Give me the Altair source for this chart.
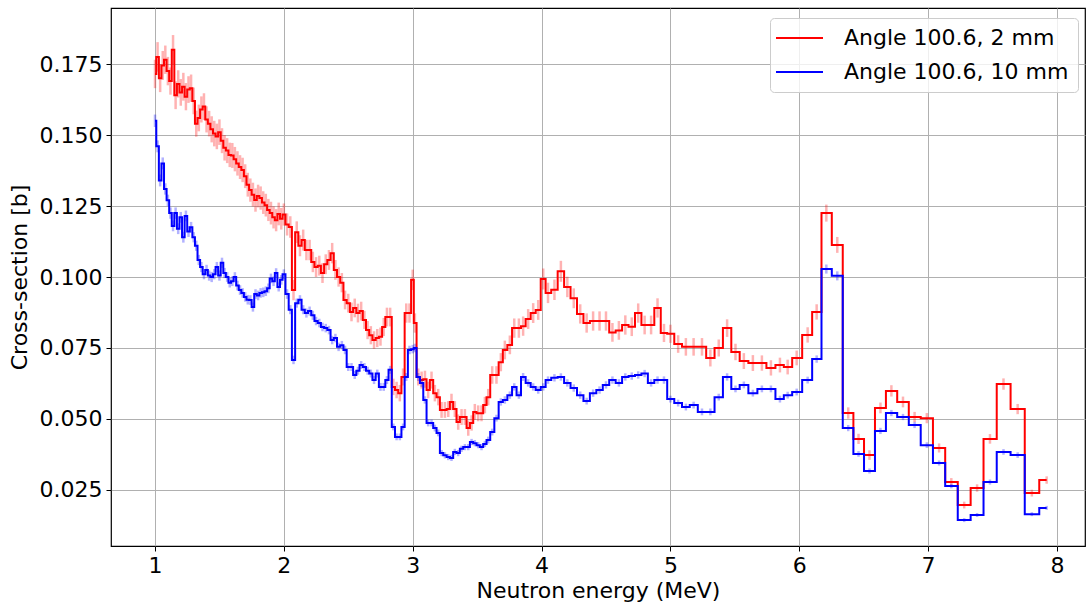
import altair as alt
import pandas as pd

# Bin-centre energies (MeV), split by energy range
energy_a = [1.00, 1.02, 1.04, 1.06, 1.08, 1.10, 1.12, 1.14, 1.16, 1.18,
            1.20, 1.22, 1.24, 1.26, 1.28, 1.30, 1.32, 1.34, 1.36, 1.38,
            1.40, 1.42, 1.44, 1.46, 1.48, 1.50, 1.52, 1.54, 1.56, 1.58,
            1.60, 1.62, 1.64, 1.66, 1.68, 1.70, 1.72, 1.74, 1.76, 1.78,
            1.80, 1.82, 1.84, 1.86, 1.88, 1.90, 1.92, 1.94, 1.96, 1.98,
            2.00]
energy_b = [2.025, 2.050, 2.075, 2.100, 2.125, 2.150, 2.175, 2.200, 2.225, 2.250,
            2.275, 2.300, 2.325, 2.350, 2.375, 2.400, 2.425, 2.450, 2.475, 2.500,
            2.525, 2.550, 2.575, 2.600, 2.625, 2.650, 2.675, 2.700, 2.725, 2.750,
            2.775, 2.800, 2.825, 2.850, 2.875, 2.900, 2.925, 2.950, 2.975, 3.000]
energy_c = [3.017, 3.043, 3.069, 3.095, 3.120, 3.146, 3.172, 3.198, 3.224, 3.250,
            3.276, 3.301, 3.327, 3.353, 3.379, 3.405, 3.431, 3.457, 3.482, 3.508,
            3.534, 3.560, 3.586, 3.617, 3.650, 3.684, 3.715, 3.754, 3.788, 3.824,
            3.857, 3.896, 3.935, 3.974, 4.013]
energy_d = [4.05, 4.10, 4.15, 4.20, 4.25, 4.30, 4.35, 4.40, 4.45, 4.50,
            4.55, 4.60, 4.65, 4.70, 4.75, 4.80, 4.85, 4.90, 4.95, 5.00]
energy_e = [5.060, 5.120, 5.180, 5.245, 5.310, 5.375, 5.440, 5.505, 5.570, 5.640,
            5.710, 5.780, 5.850, 5.910, 5.980, 6.065, 6.135, 6.210, 6.295, 6.380,
            6.460, 6.545, 6.630, 6.715, 6.805, 6.895, 6.990, 7.085, 7.180, 7.280,
            7.380, 7.480, 7.585, 7.695, 7.805, 7.920]

# Cross-section, 2 mm sample (b)
red_a = [0.1715, 0.1775, 0.1700, 0.1745, 0.1765, 0.1725, 0.1690, 0.1800, 0.1640, 0.1680,
         0.1650, 0.1670, 0.1635, 0.1660, 0.1665, 0.1620, 0.1540, 0.1560, 0.1590, 0.1600,
         0.1555, 0.1540, 0.1520, 0.1505, 0.1495, 0.1510, 0.1480, 0.1455, 0.1445, 0.1430,
         0.1428, 0.1415, 0.1400, 0.1387, 0.1377, 0.1355, 0.1325, 0.1306, 0.1290, 0.1271,
         0.1285, 0.1278, 0.1262, 0.1253, 0.1236, 0.1225, 0.1210, 0.1200, 0.1222, 0.1205,
         0.1220]
red_b = [0.1185, 0.1176, 0.0954, 0.1158, 0.1110, 0.1130, 0.1095, 0.1095, 0.1053, 0.1035,
         0.1040, 0.1014, 0.1045, 0.1060, 0.1084, 0.1025, 0.1000, 0.0980, 0.0919, 0.0908,
         0.0877, 0.0891, 0.0873, 0.0880, 0.0849, 0.0813, 0.0795, 0.0778, 0.0785, 0.0790,
         0.0824, 0.0859, 0.0859, 0.0613, 0.0602, 0.0591, 0.0648, 0.0873, 0.0873, 0.0990]
red_c = [0.0838, 0.0648, 0.0637, 0.0640, 0.0602, 0.0637, 0.0591, 0.0577, 0.0532, 0.0532,
         0.0535, 0.0560, 0.0535, 0.0489, 0.0507, 0.0507, 0.0468, 0.0486, 0.0525, 0.0520,
         0.0520, 0.0549, 0.0577, 0.0655, 0.0655, 0.0700, 0.0743, 0.0761, 0.0820, 0.0820,
         0.0827, 0.0852, 0.0873, 0.0884, 0.0993]
red_d = [0.0944, 0.0955, 0.1020, 0.0965, 0.0925, 0.0870, 0.0838, 0.0845, 0.0845, 0.0845,
         0.0805, 0.0812, 0.0831, 0.0825, 0.0873, 0.0831, 0.0831, 0.0891, 0.0803, 0.0800]
red_e = [0.0764, 0.0754, 0.0754, 0.0754, 0.0715, 0.0750, 0.0820, 0.0736, 0.0704, 0.0697,
         0.0697, 0.0680, 0.0690, 0.0683, 0.0715, 0.0796, 0.0877, 0.1225, 0.1113, 0.0521,
         0.0430, 0.0373, 0.0539, 0.0599, 0.0560, 0.0507, 0.0503, 0.0398, 0.0278, 0.0197,
         0.0257, 0.0430, 0.0623, 0.0535, 0.0239, 0.0285]

# Cross-section, 10 mm sample (b)
blue_a = [0.1550, 0.1460, 0.1340, 0.1400, 0.1310, 0.1270, 0.1225, 0.1180, 0.1225, 0.1170,
          0.1210, 0.1140, 0.1215, 0.1160, 0.1175, 0.1140, 0.1110, 0.1060, 0.1035, 0.1010,
          0.1025, 0.1005, 0.1000, 0.1010, 0.1035, 0.1005, 0.1050, 0.1014, 0.1000, 0.0980,
          0.0985, 0.1000, 0.0970, 0.0954, 0.0944, 0.0930, 0.0920, 0.0919, 0.0894, 0.0940,
          0.0935, 0.0944, 0.0946, 0.0950, 0.0960, 0.0995, 0.0985, 0.1014, 0.0965, 0.0990,
          0.1010]
blue_b = [0.0940, 0.0885, 0.0708, 0.0908, 0.0920, 0.0885, 0.0873, 0.0880, 0.0865, 0.0845,
          0.0838, 0.0824, 0.0820, 0.0813, 0.0778, 0.0785, 0.0754, 0.0760, 0.0743, 0.0683,
          0.0683, 0.0655, 0.0670, 0.0690, 0.0683, 0.0670, 0.0660, 0.0637, 0.0660, 0.0613,
          0.0613, 0.0637, 0.0673, 0.0472, 0.0437, 0.0437, 0.0472, 0.0648, 0.0743, 0.0746]
blue_c = [0.0750, 0.0648, 0.0627, 0.0567, 0.0486, 0.0486, 0.0468, 0.0451, 0.0380, 0.0372,
          0.0366, 0.0363, 0.0384, 0.0380, 0.0395, 0.0401, 0.0401, 0.0419, 0.0415, 0.0408,
          0.0401, 0.0412, 0.0426, 0.0454, 0.0503, 0.0560, 0.0567, 0.0584, 0.0613, 0.0584,
          0.0648, 0.0627, 0.0613, 0.0602, 0.0613]
blue_d = [0.0637, 0.0645, 0.0648, 0.0627, 0.0609, 0.0584, 0.0563, 0.0591, 0.0602, 0.0620,
          0.0637, 0.0627, 0.0648, 0.0651, 0.0655, 0.0660, 0.0627, 0.0637, 0.0637, 0.0570]
blue_e = [0.0556, 0.0542, 0.0549, 0.0525, 0.0525, 0.0577, 0.0648, 0.0606, 0.0620, 0.0591,
          0.0606, 0.0606, 0.0570, 0.0584, 0.0595, 0.0637, 0.0711, 0.1028, 0.1004, 0.0468,
          0.0377, 0.0317, 0.0458, 0.0521, 0.0507, 0.0479, 0.0408, 0.0345, 0.0264, 0.0144,
          0.0162, 0.0278, 0.0384, 0.0373, 0.0165, 0.0187]

# One-sigma uncertainties (b)
red_err_a = [0.0050, 0.0052, 0.0049, 0.0051, 0.0050, 0.0050, 0.0048, 0.0052, 0.0049, 0.0048,
             0.0047, 0.0049, 0.0048, 0.0047, 0.0048, 0.0047, 0.0046, 0.0047, 0.0046, 0.0047,
             0.0046, 0.0045, 0.0046, 0.0045, 0.0045, 0.0045, 0.0044, 0.0045, 0.0044, 0.0043,
             0.0044, 0.0043, 0.0043, 0.0042, 0.0043, 0.0042, 0.0042, 0.0041, 0.0042, 0.0041,
             0.0040, 0.0041, 0.0040, 0.0040, 0.0039, 0.0040, 0.0039, 0.0039, 0.0040, 0.0038,
             0.0039]
red_err_b = [0.0039, 0.0038, 0.0036, 0.0038, 0.0037, 0.0037, 0.0036, 0.0036, 0.0036, 0.0035,
             0.0035, 0.0035, 0.0035, 0.0035, 0.0036, 0.0035, 0.0034, 0.0034, 0.0033, 0.0033,
             0.0033, 0.0033, 0.0033, 0.0033, 0.0032, 0.0032, 0.0032, 0.0031, 0.0032, 0.0032,
             0.0032, 0.0033, 0.0033, 0.0029, 0.0029, 0.0029, 0.0030, 0.0034, 0.0034, 0.0036]
red_err_c = [0.0034, 0.0030, 0.0030, 0.0030, 0.0029, 0.0030, 0.0029, 0.0029, 0.0028, 0.0028,
             0.0028, 0.0029, 0.0028, 0.0027, 0.0028, 0.0028, 0.0027, 0.0027, 0.0028, 0.0028,
             0.0028, 0.0029, 0.0029, 0.0031, 0.0031, 0.0032, 0.0033, 0.0033, 0.0034, 0.0034,
             0.0034, 0.0035, 0.0035, 0.0035, 0.0037]
red_err_d = [0.0036, 0.0036, 0.0037, 0.0036, 0.0035, 0.0034, 0.0034, 0.0034, 0.0034, 0.0034,
             0.0033, 0.0033, 0.0034, 0.0033, 0.0034, 0.0033, 0.0033, 0.0034, 0.0032, 0.0032]
red_err_e = [0.0031, 0.0031, 0.0031, 0.0031, 0.0030, 0.0030, 0.0031, 0.0029, 0.0028, 0.0028,
             0.0027, 0.0027, 0.0026, 0.0026, 0.0026, 0.0027, 0.0027, 0.0030, 0.0028, 0.0020,
             0.0018, 0.0017, 0.0019, 0.0020, 0.0019, 0.0018, 0.0018, 0.0016, 0.0014, 0.0012,
             0.0013, 0.0017, 0.0020, 0.0018, 0.0012, 0.0013]

blue_err_a = [0.0022, 0.0021, 0.0021, 0.0021, 0.0020, 0.0020, 0.0020, 0.0019, 0.0020, 0.0019,
              0.0019, 0.0019, 0.0019, 0.0019, 0.0019, 0.0018, 0.0018, 0.0018, 0.0018, 0.0018,
              0.0018, 0.0018, 0.0018, 0.0018, 0.0018, 0.0018, 0.0018, 0.0018, 0.0017, 0.0017,
              0.0017, 0.0017, 0.0017, 0.0017, 0.0017, 0.0017, 0.0017, 0.0017, 0.0016, 0.0017,
              0.0017, 0.0017, 0.0017, 0.0017, 0.0017, 0.0017, 0.0017, 0.0017, 0.0016, 0.0017,
              0.0017]
blue_err_b = [0.0017, 0.0016, 0.0015, 0.0016, 0.0016, 0.0016, 0.0016, 0.0016, 0.0016, 0.0015,
              0.0015, 0.0015, 0.0015, 0.0015, 0.0015, 0.0015, 0.0015, 0.0015, 0.0015, 0.0014,
              0.0014, 0.0014, 0.0014, 0.0014, 0.0014, 0.0014, 0.0014, 0.0014, 0.0014, 0.0014,
              0.0014, 0.0014, 0.0014, 0.0012, 0.0012, 0.0012, 0.0012, 0.0014, 0.0015, 0.0015]
blue_err_c = [0.0015, 0.0014, 0.0014, 0.0013, 0.0012, 0.0012, 0.0012, 0.0012, 0.0011, 0.0011,
              0.0011, 0.0011, 0.0011, 0.0011, 0.0011, 0.0011, 0.0011, 0.0011, 0.0011, 0.0011,
              0.0011, 0.0011, 0.0012, 0.0012, 0.0012, 0.0013, 0.0013, 0.0013, 0.0013, 0.0013,
              0.0014, 0.0013, 0.0013, 0.0013, 0.0013]
blue_err_d = [0.0013, 0.0013, 0.0013, 0.0013, 0.0013, 0.0013, 0.0012, 0.0013, 0.0013, 0.0013,
              0.0013, 0.0013, 0.0013, 0.0013, 0.0013, 0.0013, 0.0013, 0.0013, 0.0013, 0.0012]
blue_err_e = [0.0012, 0.0012, 0.0012, 0.0012, 0.0012, 0.0012, 0.0013, 0.0012, 0.0012, 0.0012,
              0.0012, 0.0012, 0.0012, 0.0012, 0.0012, 0.0012, 0.0013, 0.0016, 0.0016, 0.0011,
              0.0010, 0.0009, 0.0011, 0.0011, 0.0011, 0.0011, 0.0010, 0.0009, 0.0008, 0.0007,
              0.0007, 0.0009, 0.0010, 0.0010, 0.0007, 0.0007]

energy = energy_a + energy_b + energy_c + energy_d + energy_e
red = red_a + red_b + red_c + red_d + red_e
blue = blue_a + blue_b + blue_c + blue_d + blue_e
red_err = red_err_a + red_err_b + red_err_c + red_err_d + red_err_e
blue_err = blue_err_a + blue_err_b + blue_err_c + blue_err_d + blue_err_e

LABEL_2MM = "Angle 100.6, 2 mm"
LABEL_10MM = "Angle 100.6, 10 mm"

x_ticks = [1, 2, 3, 4, 5, 6, 7, 8]
y_ticks = [0.025, 0.050, 0.075, 0.100, 0.125, 0.150, 0.175]


def series_frame(values, errors, label):
    return pd.DataFrame({
        "energy": energy,
        "xs": values,
        "lo": [v - s for v, s in zip(values, errors)],
        "hi": [v + s for v, s in zip(values, errors)],
        "series": label,
    })


df_2mm = series_frame(red, red_err, LABEL_2MM)
df_10mm = series_frame(blue, blue_err, LABEL_10MM)

FONT = "DejaVu Sans"
x_scale = alt.Scale(domain=[0.6585, 8.2175], nice=False, zero=False)
y_scale = alt.Scale(domain=[0.00528, 0.19472], nice=False, zero=False)
color_scale = alt.Scale(domain=[LABEL_2MM, LABEL_10MM], range=["#ff0000", "#0000ff"])

x_axis = alt.Axis(values=x_ticks, format="d", title="Neutron energy (MeV)",
                  tickSize=5, labelPadding=4, titlePadding=4)
y_axis = alt.Axis(values=y_ticks, format=".3f", title="Cross-section [b]",
                  tickSize=5, labelPadding=4, titlePadding=8)

# Legend key: a long horizontal stroke drawn as a small custom symbol,
# so the row height follows the label rather than the key length.
color_enc = alt.Color(
    "series:N", scale=color_scale, title=None,
    legend=alt.Legend(
        orient="none", legendX=659, legendY=10,
        symbolType="M-2.8,0H6.6", symbolSize=100, symbolStrokeWidth=2,
        symbolOpacity=1, labelLimit=0,
        labelFontSize=22, labelFont=FONT, labelColor="black", labelOffset=43,
        rowPadding=12, padding=9, cornerRadius=4,
        strokeColor="#cccccc", fillColor="rgba(255,255,255,0.8)",
    ),
)


def error_layer(df):
    return alt.Chart(df).mark_rule(strokeWidth=2.5, opacity=0.3).encode(
        x=alt.X("energy:Q", scale=x_scale, axis=x_axis),
        y=alt.Y("lo:Q", scale=y_scale, axis=y_axis),
        y2="hi:Q",
        color=color_enc,
    )


def step_layer(df):
    return alt.Chart(df).mark_line(interpolate="step", strokeWidth=2).encode(
        x=alt.X("energy:Q", scale=x_scale, axis=x_axis),
        y=alt.Y("xs:Q", scale=y_scale, axis=y_axis),
        color=color_enc,
    )


chart = alt.layer(
    error_layer(df_2mm), step_layer(df_2mm),
    error_layer(df_10mm), step_layer(df_10mm),
).properties(
    width=974, height=538,
    padding={"left": 111, "top": 8, "right": 1, "bottom": 62},
    autosize=alt.AutoSizeParams(type="none"),
    background="white",
).configure_view(
    stroke="black", strokeWidth=1.2,
).configure_axis(
    labelFont=FONT, titleFont=FONT, labelFontSize=22, titleFontSize=22,
    labelColor="black", titleColor="black", titleFontWeight="normal",
    tickColor="black", domain=False,
    grid=True, gridColor="#b0b0b0", gridWidth=1,
)

chart.save("out.html", embed_options={"renderer": "svg", "actions": False})
